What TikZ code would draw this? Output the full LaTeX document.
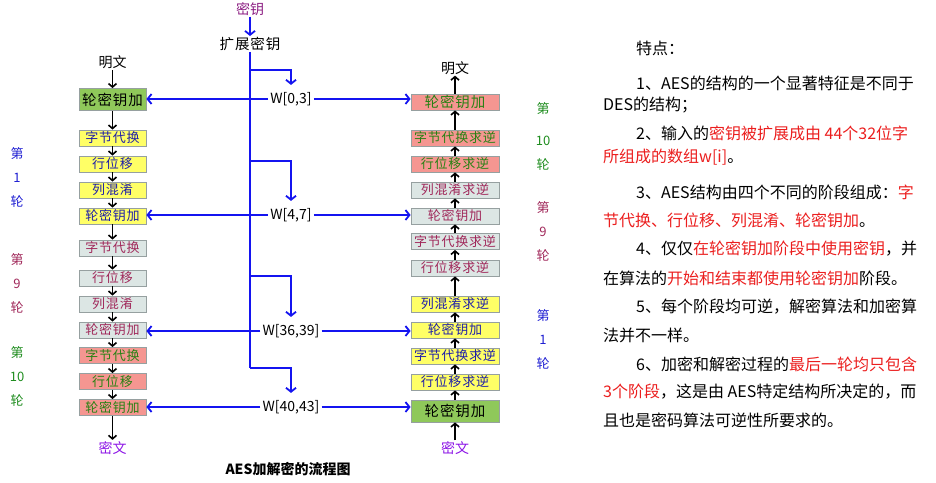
\documentclass[tikz,border=0pt]{standalone}
\usepackage{fontspec}
\setmainfont{Noto Sans CJK SC}
\newfontfamily\boxfont[LetterSpace=6]{Noto Sans CJK SC}
\usepackage{xcolor}
\usetikzlibrary{positioning, arrows.meta}

\definecolor{boxgreen}{RGB}{143,200,90}
\definecolor{boxyellow}{RGB}{255,255,102}
\definecolor{boxgrey}{RGB}{220,230,228}
\definecolor{boxred}{RGB}{245,150,145}
\definecolor{boxborder}{RGB}{150,160,160}
\definecolor{txtblue}{RGB}{30,30,170}
\definecolor{txtmaroon}{RGB}{160,40,90}
\definecolor{txtgreen}{RGB}{40,130,20}
\definecolor{keyblue}{RGB}{20,20,240}
\definecolor{keypurple}{RGB}{140,30,130}
\definecolor{ctpurple}{RGB}{140,20,230}
\definecolor{lblblue}{RGB}{30,30,210}
\definecolor{lblgreen}{RGB}{30,140,30}
\definecolor{redtext}{RGB}{235,30,30}

\newcommand{\redt}[1]{\textcolor{redtext}{#1}}

\begin{document}
\begin{tikzpicture}[
    x=1pt, y=-1pt,
    stage/.style={rectangle, draw=boxborder, line width=0.8pt, inner sep=0pt, minimum height=16pt, font=\boxfont\fontsize{13}{13}\selectfont},
    encbox/.style={stage, minimum width=67pt},
    decbox/.style={stage, minimum width=88pt},
    yel/.style={fill=boxyellow, text=txtblue},
    gry/.style={fill=boxgrey, text=txtmaroon},
    rd/.style={fill=boxred, text=txtgreen},
    grn/.style={fill=boxgreen, text=black},
    big/.style={font=\boxfont\fontsize{14.5}{15}\selectfont},
    io/.style={inner sep=1pt, font=\fontsize{14}{14}\selectfont},
    rounds/.style={align=center, inner sep=0pt, font=\fontsize{13}{24}\selectfont},
    wlabel/.style={inner sep=2pt, font=\fontsize{14}{14}\selectfont},
    note/.style={anchor=west, inner sep=0pt, font=\fontsize{16}{16}\selectfont},
    flow/.style={draw, line width=1.6pt, -{Straight Barb[length=3.5pt,width=8pt]}},
    keyline/.style={draw=keyblue, line width=1.8pt},
    keyarrow/.style={keyline, -{Straight Barb[length=4pt,width=10pt]}}
]
\useasboundingbox (0,0) rectangle (936,482);

% encryption column
\node [encbox, grn, big, minimum height=22pt] (enc1) at (112.5,99.5) {轮密钥加};
\node [encbox, yel] (enc2) at (112.5,138) {字节代换};
\node [encbox, yel] (enc3) at (112.5,164) {行位移};
\node [encbox, yel] (enc4) at (112.5,190) {列混淆};
\node [encbox, yel] (enc5) at (112.5,216) {轮密钥加};
\node [encbox, gry] (enc6) at (112.5,248) {字节代换};
\node [encbox, gry] (enc7) at (112.5,278) {行位移};
\node [encbox, gry] (enc8) at (112.5,304) {列混淆};
\node [encbox, gry] (enc9) at (112.5,330) {轮密钥加};
\node [encbox, rd] (enc10) at (112.5,355.5) {字节代换};
\node [encbox, rd] (enc11) at (112.5,381.5) {行位移};
\node [encbox, rd] (enc12) at (112.5,407.5) {轮密钥加};

\node [io, above=18pt of enc1] (plainL) {明文};
\node [io, text=ctpurple, below=24pt of enc12] (cipherL) {密文};

\path [flow] (plainL) -- (enc1);
\path [flow] (enc1) -- (enc2);
\path [flow] (enc2) -- (enc3);
\path [flow] (enc3) -- (enc4);
\path [flow] (enc4) -- (enc5);
\path [flow] (enc5) -- (enc6);
\path [flow] (enc6) -- (enc7);
\path [flow] (enc7) -- (enc8);
\path [flow] (enc8) -- (enc9);
\path [flow] (enc9) -- (enc10);
\path [flow] (enc10) -- (enc11);
\path [flow] (enc11) -- (enc12);
\path [flow] (enc12) -- (cipherL);

\node [rounds, text=lblblue] (roundL1) at (17,177) {第\\1\\轮};
\node [rounds, text=txtmaroon] (roundL9) at (17,283) {第\\9\\轮};
\node [rounds, text=lblgreen] (roundL10) at (17,376) {第\\10\\轮};

% decryption column
\node [decbox, rd, big] (dec1) at (455,102) {轮密钥加};
\node [decbox, rd] (dec2) at (455,138) {字节代换求逆};
\node [decbox, rd] (dec3) at (455,164) {行位移求逆};
\node [decbox, gry] (dec4) at (455,190) {列混淆求逆};
\node [decbox, gry] (dec5) at (455,216) {轮密钥加};
\node [decbox, gry] (dec6) at (455,241.5) {字节代换求逆};
\node [decbox, gry] (dec7) at (455,268) {行位移求逆};
\node [decbox, yel] (dec8) at (455,304) {列混淆求逆};
\node [decbox, yel] (dec9) at (455,330) {轮密钥加};
\node [decbox, yel] (dec10) at (455,356) {字节代换求逆};
\node [decbox, yel] (dec11) at (455,382) {行位移求逆};
\node [decbox, grn, big, minimum height=22pt] (dec12) at (455,411) {轮密钥加};

\node [io, above=18pt of dec1] (plainR) {明文};
\node [io, text=ctpurple, below=18pt of dec12] (cipherR) {密文};

\path [flow] (cipherR) -- (dec12);
\path [flow] (dec12) -- (dec11);
\path [flow] (dec11) -- (dec10);
\path [flow] (dec10) -- (dec9);
\path [flow] (dec9) -- (dec8);
\path [flow] (dec8) -- (dec7);
\path [flow] (dec7) -- (dec6);
\path [flow] (dec6) -- (dec5);
\path [flow] (dec5) -- (dec4);
\path [flow] (dec4) -- (dec3);
\path [flow] (dec3) -- (dec2);
\path [flow] (dec2) -- (dec1);
\path [flow] (dec1) -- (plainR);

\node [rounds, text=lblgreen] (roundR10) at (543,136) {第\\[8pt]10\\轮};
\node [rounds, text=txtmaroon] (roundR9) at (543,231) {第\\9\\轮};
\node [rounds, text=lblblue] (roundR1) at (543,339) {第\\1\\轮};

% key schedule
\node [io, text=keypurple] (key) at (250,9) {密钥};
\node [io, font=\boxfont\fontsize{14.5}{15}\selectfont] (keyexp) at (250,44) {扩展密钥};
\path [keyarrow] (key) -- (keyexp);

\coordinate (b1) at (250,70);
\coordinate (b2) at (250,161);
\coordinate (b3) at (250,276);
\coordinate (b4) at (250,368);
\path [keyline] (keyexp.south) -- (b4);

\node [wlabel] (w1) at (291,99) {W[0,3]};
\node [wlabel] (w2) at (291,215) {W[4,7]};
\node [wlabel] (w3) at (291,331) {W[36,39]};
\node [wlabel] (w4) at (291,407) {W[40,43]};

\path [keyarrow, shorten >=5pt] (b1) -| (w1.north);
\path [keyarrow, shorten >=5pt] (b2) -| (w2.north);
\path [keyarrow, shorten >=5pt] (b3) -| (w3.north);
\path [keyarrow, shorten >=5pt] (b4) -| (w4.north);

\path [keyarrow] (w1.west) -- (w1.west -| enc1.east);
\path [keyarrow] (w2.west) -- (w2.west -| enc5.east);
\path [keyarrow] (w3.west) -- (w3.west -| enc9.east);
\path [keyarrow] (w4.west) -- (w4.west -| enc12.east);
\path [keyarrow] (w1.east) -- (w1.east -| dec1.west);
\path [keyarrow] (w2.east) -- (w2.east -| dec5.west);
\path [keyarrow] (w3.east) -- (w3.east -| dec9.west);
\path [keyarrow] (w4.east) -- (w4.east -| dec12.west);

\node [font=\bfseries\fontsize{14}{14}\selectfont] (caption) at (288,469) {AES加解密的流程图};

% notes on the right
\node [note] (note0) at (636,48) {特点：};
\node [note] (note1) at (636,83) {1、AES的结构的一个显著特征是不同于};
\node [note] (note2) at (603,105) {DES的结构；};
\node [note] (note3) at (636,133) {2、输入的\redt{密钥被扩展成由 44个32位字}};
\node [note] (note4) at (603,157) {\redt{所组成的数组w[i]}。};
\node [note] (note5) at (636,192) {3、AES结构由四个不同的阶段组成：\redt{字}};
\node [note] (note6) at (603,220) {\redt{节代换、行位移、列混淆、轮密钥加}。};
\node [note] (note7) at (636,249) {4、仅仅\redt{在轮密钥加阶段中使用密钥}，并};
\node [note] (note8) at (603,278) {在算法的\redt{开始和结束都使用轮密钥加}阶段。};
\node [note] (note9) at (636,307) {5、每个阶段均可逆，解密算法和加密算};
\node [note] (note10) at (603,335) {法并不一样。};
\node [note] (note11) at (636,364) {6、加密和解密过程的\redt{最后一轮均只包含}};
\node [note] (note12) at (603,392) {\redt{3个阶段}，这是由 AES特定结构所决定的，而};
\node [note] (note13) at (603,420) {且也是密码算法可逆性所要求的。};
\end{tikzpicture}
\end{document}
